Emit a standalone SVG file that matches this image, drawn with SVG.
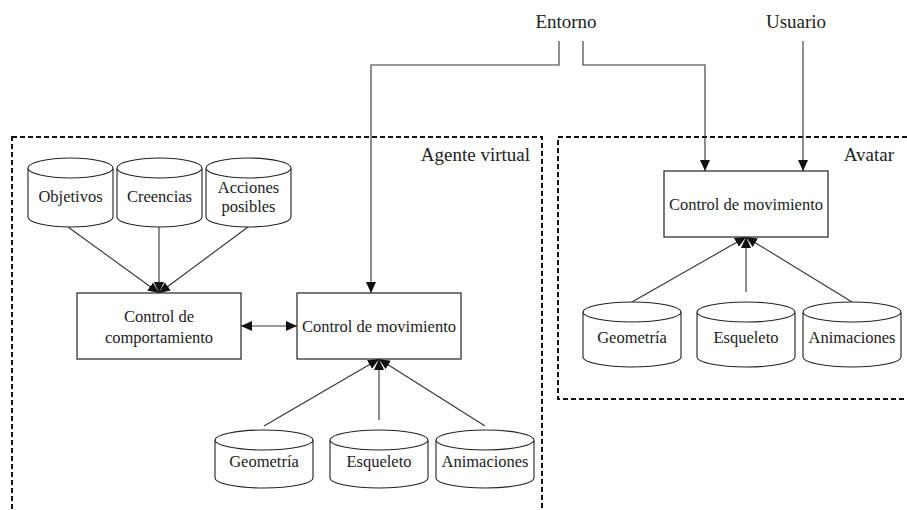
<svg xmlns="http://www.w3.org/2000/svg" width="907" height="510" viewBox="0 0 907 510" font-family="'Liberation Serif', 'DejaVu Serif', serif">
  <style>
    .bg { fill: #ffffff; }
    .frame { fill: none; stroke: #111; stroke-width: 2; stroke-dasharray: 5 3; }
    .box { fill: #fff; stroke: #222; stroke-width: 1.2; }
    .cyl { fill: #fff; stroke: #222; stroke-width: 1.1; }
    .wire { fill: none; stroke: #333; stroke-width: 1.1; }
    .t { font-size: 16.5px; text-anchor: middle; fill: #222; }
    .lbl { font-size: 19px; fill: #222; }
  </style>
  <defs>
    <marker id="arrow" viewBox="0 0 11 10" refX="11" refY="5" markerWidth="11" markerHeight="10" markerUnits="userSpaceOnUse" orient="auto-start-reverse">
      <path d="M0,0 L11,5 L0,10 Z" fill="#111"/>
    </marker>
  </defs>

  <rect class="bg" x="0" y="0" width="907" height="510"/>

  <!-- dashed group frames -->
  <g id="agente-virtual">
    <rect class="frame" x="12" y="137" width="530" height="400"/>
    <text class="lbl" x="530" y="161" text-anchor="end">Agente virtual</text>
  </g>
  <g id="avatar">
    <rect class="frame" x="558" y="137" width="370" height="262"/>
    <text class="lbl" x="894" y="161" text-anchor="end">Avatar</text>
  </g>

  <!-- external sources -->
  <g id="entorno"><text class="lbl" x="566" y="28" text-anchor="middle">Entorno</text></g>
  <g id="usuario"><text class="lbl" x="796" y="28" text-anchor="middle">Usuario</text></g>

  <!-- connectors -->
  <g id="connectors">
    <path class="wire" d="M559,41 V65 H371 V293" marker-end="url(#arrow)"/>
    <path class="wire" d="M583,41 V65 H705 V171" marker-end="url(#arrow)"/>
    <path class="wire" d="M803,41 V171" marker-end="url(#arrow)"/>

    <path class="wire" d="M68,227 L159,293" marker-end="url(#arrow)"/>
    <path class="wire" d="M159,227 L159,293" marker-end="url(#arrow)"/>
    <path class="wire" d="M248,227 L159,293" marker-end="url(#arrow)"/>

    <path class="wire" d="M241,326 H297" marker-start="url(#arrow)" marker-end="url(#arrow)"/>

    <path class="wire" d="M264,426 L379,359" marker-end="url(#arrow)"/>
    <path class="wire" d="M379,420 L379,359" marker-end="url(#arrow)"/>
    <path class="wire" d="M485,426 L379,359" marker-end="url(#arrow)"/>

    <path class="wire" d="M632,302 L746,237" marker-end="url(#arrow)"/>
    <path class="wire" d="M746,292 L746,237" marker-end="url(#arrow)"/>
    <path class="wire" d="M852,302 L746,237" marker-end="url(#arrow)"/>
  </g>

  <!-- agent knowledge stores -->
  <g id="objetivos">
    <path class="cyl" d="M28,168 V217 A42.5,10 0 0 0 113,217 V168 A42.5,10 0 0 0 28,168 A42.5,10 0 0 0 113,168"/>
    <text class="t" x="70.5" y="202">Objetivos</text>
  </g>
  <g id="creencias">
    <path class="cyl" d="M117,168 V217 A42.5,10 0 0 0 202,217 V168 A42.5,10 0 0 0 117,168 A42.5,10 0 0 0 202,168"/>
    <text class="t" x="159.5" y="202">Creencias</text>
  </g>
  <g id="acciones-posibles">
    <path class="cyl" d="M206,168 V217 A42.5,10 0 0 0 291,217 V168 A42.5,10 0 0 0 206,168 A42.5,10 0 0 0 291,168"/>
    <text class="t" x="248.5" y="193">Acciones</text>
    <text class="t" x="248.5" y="212">posibles</text>
  </g>

  <!-- agent controllers -->
  <g id="control-comportamiento">
    <rect class="box" x="77" y="293" width="164" height="66"/>
    <text class="t" x="159" y="322">Control de</text>
    <text class="t" x="159" y="343">comportamiento</text>
  </g>
  <g id="control-movimiento-agente">
    <rect class="box" x="297" y="293" width="164" height="66"/>
    <text class="t" x="379" y="332">Control de movimiento</text>
  </g>

  <!-- agent body resources -->
  <g id="geometria-agente">
    <path class="cyl" d="M215,440 V478 A49,10 0 0 0 313,478 V440 A49,10 0 0 0 215,440 A49,10 0 0 0 313,440"/>
    <text class="t" x="264" y="467">Geometría</text>
  </g>
  <g id="esqueleto-agente">
    <path class="cyl" d="M330,440 V478 A49,10 0 0 0 428,478 V440 A49,10 0 0 0 330,440 A49,10 0 0 0 428,440"/>
    <text class="t" x="379" y="467">Esqueleto</text>
  </g>
  <g id="animaciones-agente">
    <path class="cyl" d="M436,440 V478 A49,10 0 0 0 534,478 V440 A49,10 0 0 0 436,440 A49,10 0 0 0 534,440"/>
    <text class="t" x="485" y="467">Animaciones</text>
  </g>

  <!-- avatar controller and resources -->
  <g id="control-movimiento-avatar">
    <rect class="box" x="664" y="171" width="164" height="66"/>
    <text class="t" x="746" y="210">Control de movimiento</text>
  </g>
  <g id="geometria-avatar">
    <path class="cyl" d="M583,312 V357 A49,10 0 0 0 681,357 V312 A49,10 0 0 0 583,312 A49,10 0 0 0 681,312"/>
    <text class="t" x="632" y="343">Geometría</text>
  </g>
  <g id="esqueleto-avatar">
    <path class="cyl" d="M697,312 V357 A49,10 0 0 0 795,357 V312 A49,10 0 0 0 697,312 A49,10 0 0 0 795,312"/>
    <text class="t" x="746" y="343">Esqueleto</text>
  </g>
  <g id="animaciones-avatar">
    <path class="cyl" d="M803,312 V357 A49,10 0 0 0 901,357 V312 A49,10 0 0 0 803,312 A49,10 0 0 0 901,312"/>
    <text class="t" x="852" y="343">Animaciones</text>
  </g>
</svg>
